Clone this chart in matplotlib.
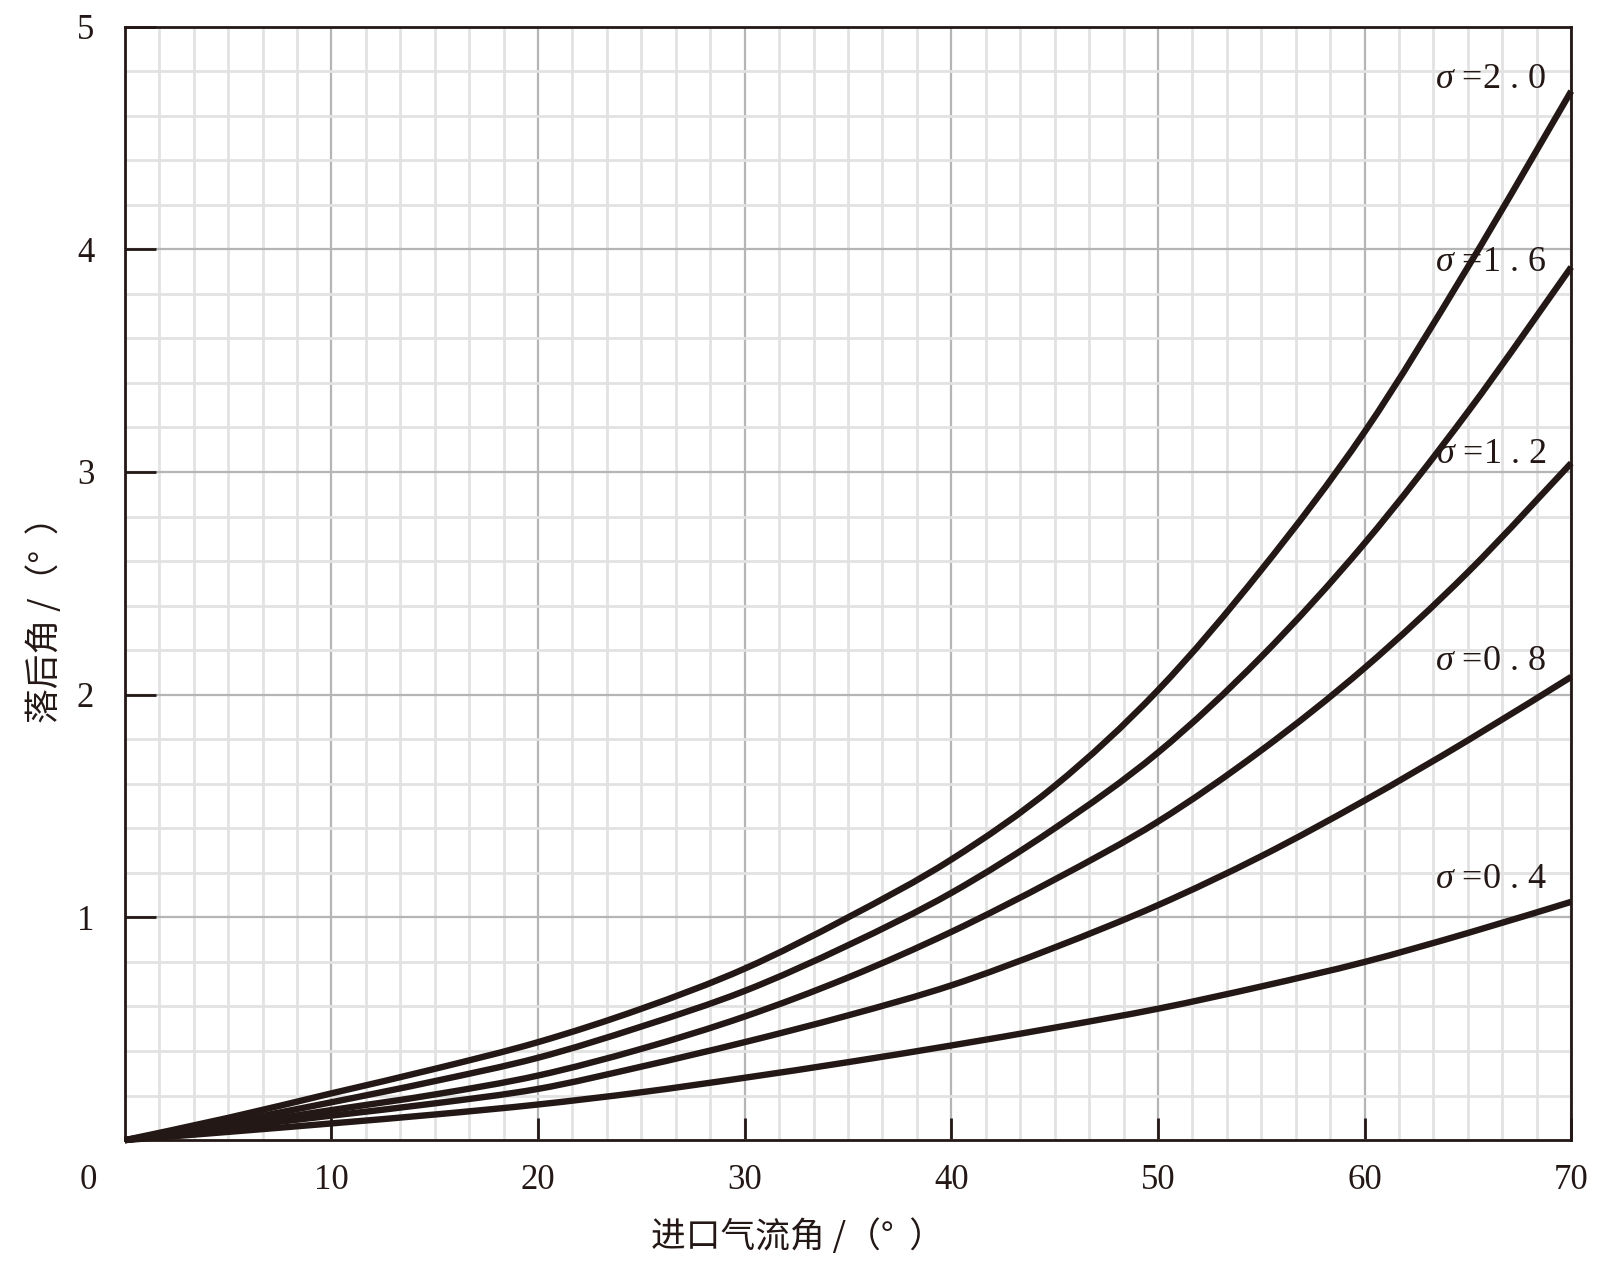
import numpy as np
import matplotlib
matplotlib.use("Agg")
import matplotlib.pyplot as plt
from matplotlib.ticker import MultipleLocator
from matplotlib.path import Path
from matplotlib.patches import PathPatch

# ==== Data ====
inlet_angle = [0, 5, 10, 15, 20, 25, 30, 35, 40, 45, 50, 55, 60, 65, 70]

deviation = {
    "2.0": [0, 0.10, 0.21, 0.32, 0.44, 0.59, 0.77, 1.00, 1.26, 1.59, 2.02, 2.56, 3.18, 3.92, 4.71],
    "1.6": [0, 0.08, 0.17, 0.265, 0.37, 0.51, 0.67, 0.875, 1.11, 1.40, 1.74, 2.17, 2.68, 3.27, 3.92],
    "1.2": [0, 0.065, 0.135, 0.205, 0.29, 0.41, 0.555, 0.73, 0.935, 1.17, 1.43, 1.75, 2.12, 2.55, 3.04],
    "0.8": [0, 0.055, 0.11, 0.165, 0.23, 0.33, 0.44, 0.56, 0.695, 0.865, 1.055, 1.275, 1.525, 1.795, 2.08],
    "0.4": [0, 0.037, 0.075, 0.115, 0.16, 0.215, 0.28, 0.35, 0.425, 0.505, 0.59, 0.69, 0.80, 0.93, 1.07],
}

label_y = {"2.0": 4.76, "1.6": 3.94, "1.2": 3.08, "0.8": 2.15, "0.4": 1.17}

ink = "#231815"
cjk = ["Noto Sans CJK SC", "DejaVu Sans"]
serif = ["Liberation Serif", "DejaVu Serif"]

plt.rcParams["mathtext.fontset"] = "custom"
plt.rcParams["mathtext.it"] = "Liberation Serif:italic"
plt.rcParams["mathtext.rm"] = "Liberation Serif"


def smooth_path(xs, ys):
    # cubic bezier through the read points (catmull-rom style handles)
    pts = np.column_stack([xs, ys]).astype(float)
    verts = [pts[0]]
    codes = [Path.MOVETO]
    n = len(pts)
    for i in range(n - 1):
        p0 = pts[max(i - 1, 0)]
        p1 = pts[i]
        p2 = pts[i + 1]
        p3 = pts[min(i + 2, n - 1)]
        c1 = p1 + (p2 - p0) / 6.0
        c2 = p2 - (p3 - p1) / 6.0
        verts += [c1, c2, p2]
        codes += [Path.CURVE4] * 3
    return Path(verts, codes)


# ==== Figure ====
fig = plt.figure(figsize=(16, 12.64), dpi=100)
ax = fig.add_axes([0.078, 0.098, 0.904, 0.881])

ax.set_xlim(0, 70)
ax.set_ylim(0, 5)

ax.xaxis.set_major_locator(MultipleLocator(10))
ax.xaxis.set_minor_locator(MultipleLocator(10 / 6))
ax.yaxis.set_major_locator(MultipleLocator(1))
ax.yaxis.set_minor_locator(MultipleLocator(0.2))

ax.grid(which="minor", color="#e2e2e2", linewidth=2.0, zorder=0)
ax.grid(which="major", color="#b5b5b5", linewidth=1.6, zorder=1)
ax.set_axisbelow(True)

for s in ax.spines.values():
    s.set_color(ink)
    s.set_linewidth(2.0)

ax.tick_params(axis="x", which="major", direction="in", length=16, width=2,
               color=ink, pad=17, labelsize=25, labelcolor=ink)
ax.tick_params(axis="y", which="major", direction="in", length=22, width=2,
               color=ink, pad=22, labelsize=25, labelcolor=ink)
ax.tick_params(which="minor", length=0)

ax.set_xticks(np.arange(10, 71, 10))
ax.set_yticks(np.arange(1, 6, 1))
for lab in ax.get_xticklabels() + ax.get_yticklabels():
    lab.set_family(serif)

ax.annotate("0", xy=(0, 0), xycoords="data", xytext=(-36, -40),
            textcoords="offset pixels", ha="center", va="center",
            fontsize=25, family=serif, color=ink)

# ==== Curves ====
for sig, vals in deviation.items():
    patch = PathPatch(smooth_path(inlet_angle, vals), facecolor="none",
                      edgecolor=ink, linewidth=4.6, capstyle="butt",
                      zorder=3, clip_on=False)
    ax.add_patch(patch)
    ax.text(68.8, label_y[sig], r"$\sigma$ =" + sig[0] + " . " + sig[2], ha="right",
            va="center", fontsize=26, family=serif, color=ink, zorder=4)

ax.set_xlabel("进口气流角 /（°  ）", family=cjk, fontsize=25, color=ink)
ax.xaxis.label.set_va("center")
ax.xaxis.set_label_coords(0.465, -0.087)
ax.set_ylabel("落后角 /（°  ）", family=cjk, fontsize=25, color=ink)
ax.yaxis.label.set_va("center")
ax.yaxis.set_label_coords(-0.055, 0.475)

fig.savefig("out.png", dpi=100)
